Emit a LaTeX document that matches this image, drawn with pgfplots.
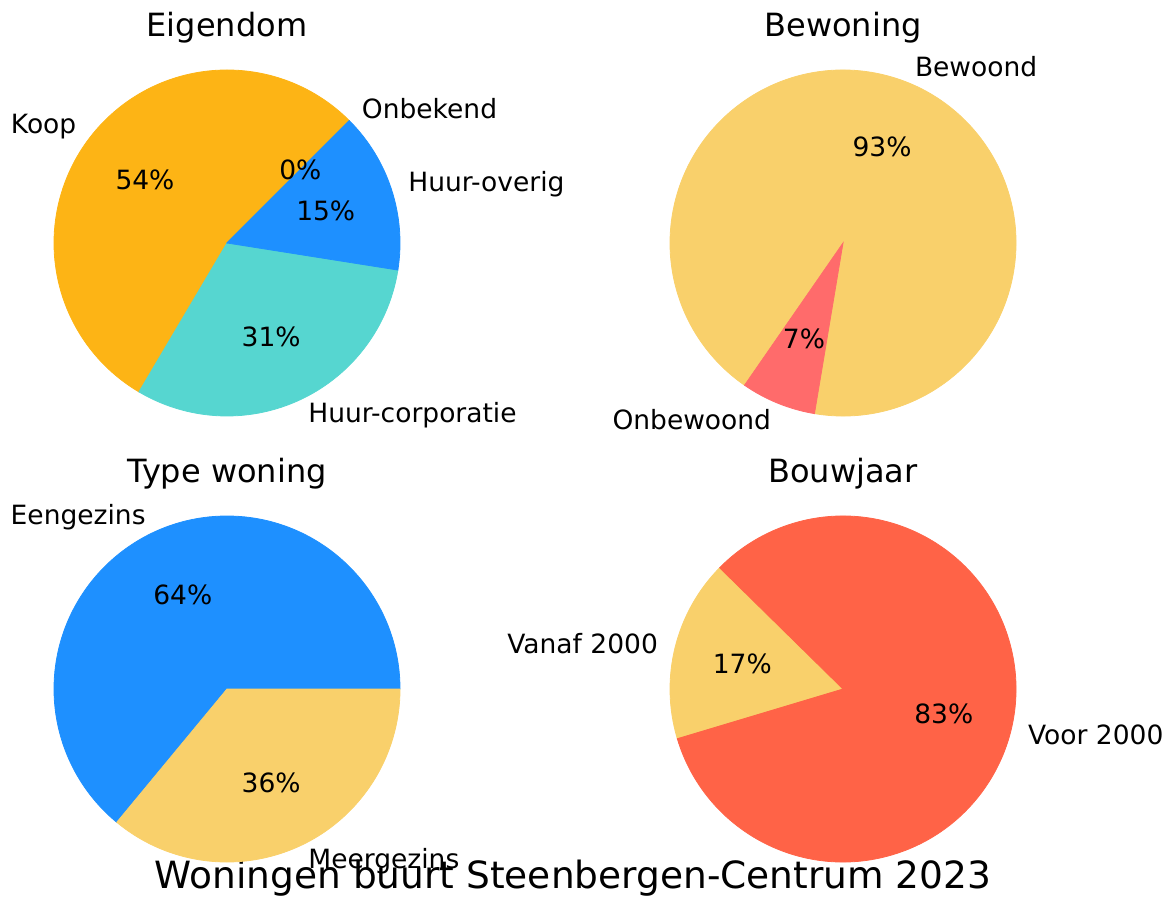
\documentclass[border=0pt]{standalone}
\usepackage{pgfplots}
\usepackage{pgfplotstable}
\pgfplotsset{compat=1.18}
\usepackage{fontspec}
\setmainfont{DejaVu Sans}

\definecolor{koop}{RGB}{253,180,21}
\definecolor{corp}{RGB}{86,214,208}
\definecolor{overig}{RGB}{30,144,255}
\definecolor{geel}{RGB}{249,208,107}
\definecolor{onbew}{RGB}{255,107,107}
\definecolor{voor}{RGB}{255,99,71}

% one table per pie: share (%), colour, label
\pgfplotstableread{
val col    lab
54  koop   Koop
31  corp   Huur-corporatie
15  overig Huur-overig
0   overig Onbekend
}\eigendom
\pgfplotstableread{
val col    lab
93  geel   Bewoond
7   onbew  Onbewoond
}\bewoning
\pgfplotstableread{
val col    lab
64  overig Eengezins
36  geel   Meergezins
}\typewoning
\pgfplotstableread{
val col    lab
17  geel   {Vanaf 2000}
83  voor   {Voor 2000}
}\bouwjaar

% running sum, so each wedge knows where it starts
\pgfplotstablecreatecol[create col/expr accum={\pgfmathaccuma+\thisrow{val}}{0}]{cum}\eigendom
\pgfplotstablecreatecol[create col/expr accum={\pgfmathaccuma+\thisrow{val}}{0}]{cum}\bewoning
\pgfplotstablecreatecol[create col/expr accum={\pgfmathaccuma+\thisrow{val}}{0}]{cum}\typewoning
\pgfplotstablecreatecol[create col/expr accum={\pgfmathaccuma+\thisrow{val}}{0}]{cum}\bouwjaar

\pgfdeclareplotmark{leeg}{}
\newcommand\lblfont{\fontsize{13.25}{15}\selectfont}

\pgfplotsset{
  pie/.style 2 args={
    scatter, only marks, mark=leeg,
    visualization depends on={\thisrow{cum}-\thisrow{val} \as \wbefore},
    visualization depends on={\thisrow{val} \as \wpct},
    visualization depends on={\coordindex \as \widx},
    scatter/@pre marker code/.code={%
      \pgfmathsetmacro\wa{#1+3.6*\wbefore}%
      \pgfmathsetmacro\wb{\wa+3.6*\wpct}%
      \pgfmathsetmacro\wm{(\wa+\wb)/2}%
      \pgfmathsetmacro\wc{cos(\wm)}%
      \pgfmathtruncatemacro\wp{round(\wpct)}%
      \pgfmathtruncatemacro\wi{\widx}%
      \pgfplotstablegetelem{\wi}{col}\of#2\let\wcol\pgfplotsretval
      \pgfplotstablegetelem{\wi}{lab}\of#2\let\wlab\pgfplotsretval
      \fill[\wcol] (0,0) -- (\wa:86.5pt) arc[start angle=\wa, end angle=\wb, radius=86.5pt] -- cycle;
      \ifdim\wc pt>0pt
        \node[anchor=west, inner sep=0pt, font=\lblfont] at (\wm:95.15pt) {\wlab};
      \else
        \node[anchor=east, inner sep=0pt, font=\lblfont] at (\wm:95.15pt) {\wlab};
      \fi
      \node[inner sep=0pt, font=\lblfont] at (\wm:51.9pt) {\wp\%};
    },
    scatter/@post marker code/.code={},
  },
}

\begin{document}
\begin{tikzpicture}
\begin{axis}[
  x=0.5pt, y=0.5pt,
  xmin=0, xmax=1176, ymin=0, ymax=899,
  hide axis, clip=false,
]
\addplot[draw=none] coordinates {(0,0) (1176,899)};

\addplot[pie={45}{\eigendom}]    table[x expr=227, y expr=656] {\eigendom};
\addplot[pie={260.5}{\bewoning}] table[x expr=843, y expr=656] {\bewoning};
\addplot[pie={0}{\typewoning}]   table[x expr=227, y expr=210] {\typewoning};
\addplot[pie={135.5}{\bouwjaar}] table[x expr=843, y expr=210] {\bouwjaar};

\node[font=\fontsize{16}{19}\selectfont] at (axis cs:227,871) {Eigendom};
\node[font=\fontsize{16}{19}\selectfont] at (axis cs:843,871) {Bewoning};
\node[font=\fontsize{16}{19}\selectfont] at (axis cs:227,425) {Type woning};
\node[font=\fontsize{16}{19}\selectfont] at (axis cs:843,425) {Bouwjaar};
\node[font=\fontsize{18.75}{22}\selectfont] at (axis cs:573,21) {Woningen buurt Steenbergen-Centrum 2023};
\end{axis}
\end{tikzpicture}
\end{document}
